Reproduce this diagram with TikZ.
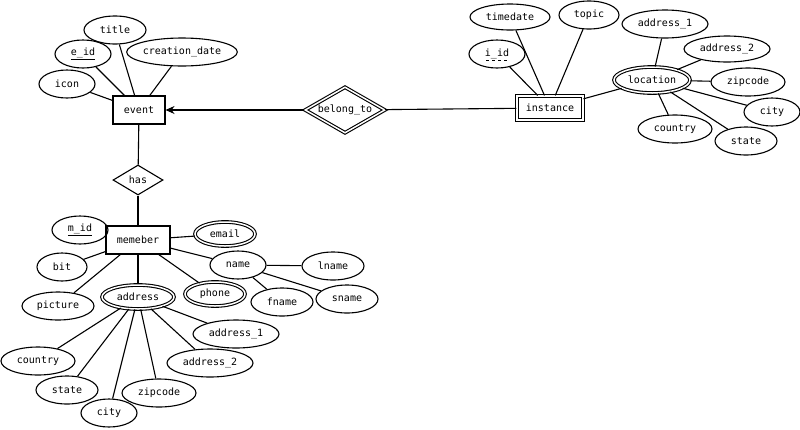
\documentclass[tikz,border=0pt]{standalone}
\usepackage{fontspec}
\setmainfont{DejaVu Sans Mono}
\usetikzlibrary{shapes.geometric,arrows.meta}
\begin{document}
\begin{tikzpicture}[x=1pt,y=-1pt,line width=1.1pt,font=\fontsize{10}{12}\selectfont,
 ent/.style={draw,rectangle,inner sep=0pt},
 att/.style={draw,ellipse,inner sep=0pt},
 mv/.style={att,double,double distance=1.5pt},
 rel/.style={draw,diamond,inner sep=0pt,aspect=1.7}]
\useasboundingbox (0,0) rectangle (800,429);
\node[ent,minimum width=52,minimum height=28] (event) at (139,110) {event};
\node[att,minimum width=56,minimum height=28] (icon) at (67,84) {icon};
\node[att,minimum width=56,minimum height=28] (eid) at (83,54) {\underline{e\_id}};
\node[att,minimum width=62,minimum height=28] (title) at (115,30) {title};
\node[att,minimum width=110,minimum height=28] (cd) at (182,52) {creation\_date};
\node[rel,minimum width=50,minimum height=30] (has) at (138,180) {has};
\node[rel,double,double distance=1.5pt,minimum width=80,minimum height=46] (bt) at (345,110) {belong\_to};
\node[ent,double,double distance=1.5pt,minimum width=66,minimum height=24] (inst) at (550,108) {instance};
\node[att,minimum width=80,minimum height=26] (td) at (510,17) {timedate};
\node[att,minimum width=60,minimum height=28] (topic) at (589,15) {topic};
\node[att,minimum width=56,minimum height=28] (iid) at (497,54) {i\_id};
\draw[dashed,line width=0.8pt] (486,60) -- (508,60);
\node[mv,minimum width=76,minimum height=26] (loc) at (652,80) {location};
\node[att,minimum width=86,minimum height=28] (la1) at (665,24) {address\_1};
\node[att,minimum width=86,minimum height=26] (la2) at (727,49) {address\_2};
\node[att,minimum width=74,minimum height=28] (lz) at (748,82) {zipcode};
\node[att,minimum width=56,minimum height=28] (lc) at (772,112) {city};
\node[att,minimum width=74,minimum height=28] (lco) at (675,129) {country};
\node[att,minimum width=62,minimum height=28] (ls) at (746,141) {state};
\node[ent,minimum width=64,minimum height=28] (mem) at (138,240) {memeber};
\node[att,minimum width=56,minimum height=28] (mid) at (80,230) {\underline{m\_id}};
\node[mv,minimum width=60,minimum height=24] (email) at (225,234) {email};
\node[att,minimum width=50,minimum height=28] (bit) at (62,267) {bit};
\node[att,minimum width=56,minimum height=28] (name) at (238,265) {name};
\node[att,minimum width=62,minimum height=28] (lname) at (333,266) {lname};
\node[att,minimum width=72,minimum height=28] (pic) at (58,306) {picture};
\node[mv,minimum width=72,minimum height=24] (addr) at (138,297) {address};
\node[mv,minimum width=60,minimum height=24] (phone) at (215,294) {phone};
\node[att,minimum width=62,minimum height=28] (fname) at (282,302) {fname};
\node[att,minimum width=62,minimum height=28] (sname) at (347,299) {sname};
\node[att,minimum width=86,minimum height=28] (a1) at (236,334) {address\_1};
\node[att,minimum width=74,minimum height=28] (co) at (38,361) {country};
\node[att,minimum width=86,minimum height=28] (a2) at (210,363) {address\_2};
\node[att,minimum width=62,minimum height=28] (st) at (67,390) {state};
\node[att,minimum width=74,minimum height=28] (zc) at (159,393) {zipcode};
\node[att,minimum width=56,minimum height=28] (ci) at (109,413) {city};
\foreach \a in {icon,eid,title,cd,has} \draw (event) -- (\a);
\draw (has) -- (mem);
\draw[-{Stealth[length=9pt,width=8pt]}] (bt) -- (event);
\draw (bt) -- (inst);
\foreach \a in {td,topic,iid,loc} \draw (inst) -- (\a);
\foreach \a in {la1,la2,lz,lc,lco,ls} \draw (loc) -- (\a);
\foreach \a in {mid,email,bit,name,pic,addr,phone} \draw (mem) -- (\a);
\foreach \a in {lname,fname,sname} \draw (name) -- (\a);
\foreach \a in {a1,co,a2,st,zc,ci} \draw (addr) -- (\a);
\end{tikzpicture}
\end{document}
